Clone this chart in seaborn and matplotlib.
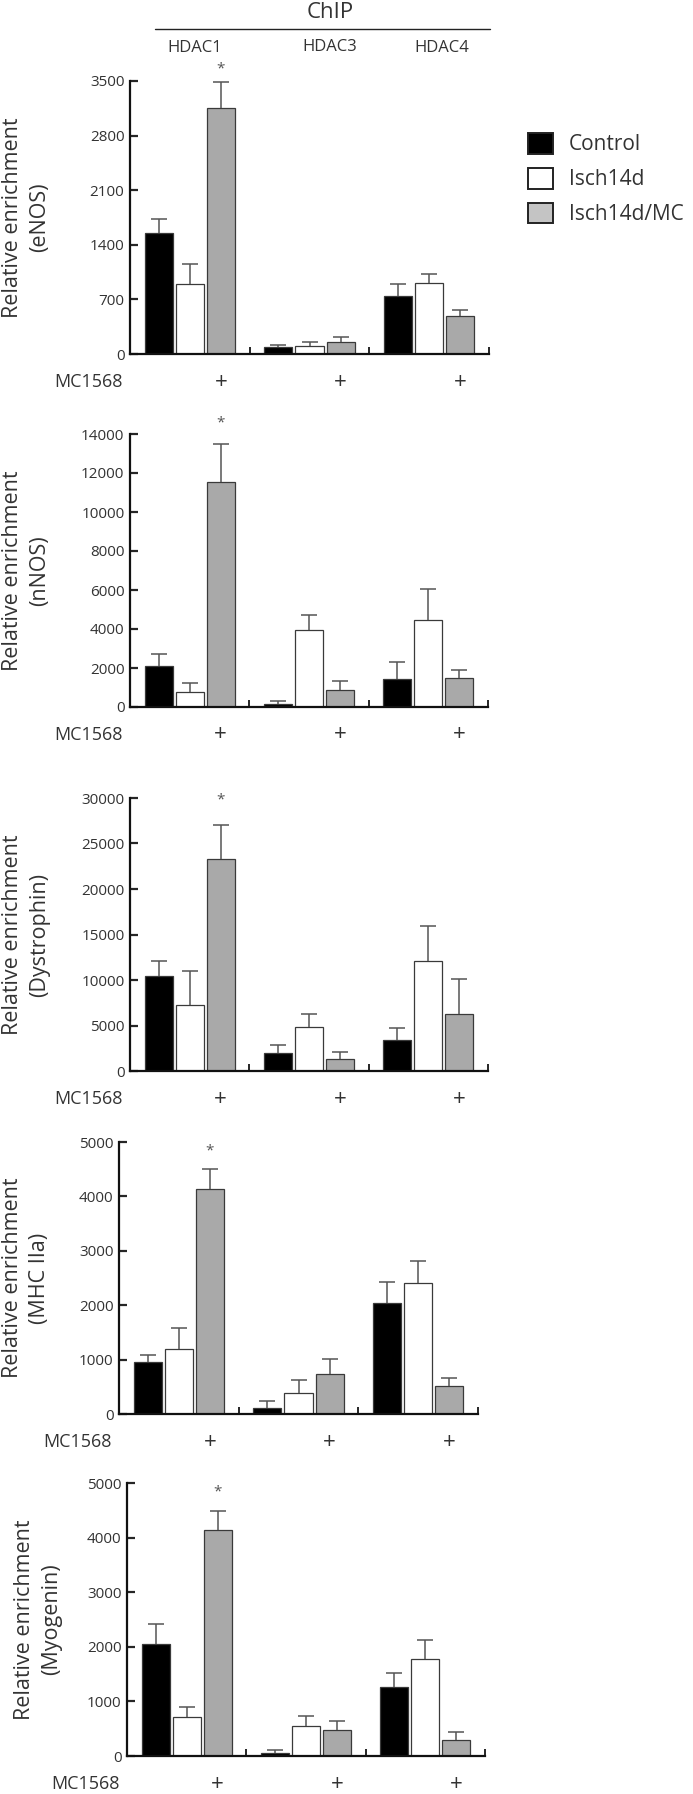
import pandas as pd
import matplotlib.pyplot as plt
import seaborn as sns
from matplotlib.lines import Line2D
from matplotlib.patches import Patch

# Grupos y dianas de ChIP
targets = ['HDAC1', 'HDAC3', 'HDAC4']
groups = ['Control', 'Isch14d', 'Isch14d/MC']

# Valores (una lista por grupo: HDAC1, HDAC3, HDAC4)
enos_mean = [[1547, 85, 744], [897, 103, 915], [3154, 154, 487]]
enos_err = [[184, 30, 149], [253, 47, 115], [329, 64, 73]]

nnos_mean = [[2085, 154, 1436], [786, 3949, 4444], [11556, 889, 1470]]
nnos_err = [[633, 154, 889], [445, 769, 1607], [1931, 444, 445]]

dys_mean = [[10403, 2015, 3370], [7253, 4799, 12125], [23333, 1355, 6300]]
dys_err = [[1648, 879, 1355], [3773, 1428, 3809], [3700, 696, 3773]]

mhc_mean = [[954, 104, 2048], [1192, 379, 2402], [4132, 740, 513]]
mhc_err = [[134, 140, 373], [397, 244, 416], [379, 269, 147]]

myo_mean = [[2049, 49, 1256], [713, 543, 1774], [4140, 482, 293]]
myo_err = [[360, 55, 268], [189, 189, 342], [342, 152, 140]]

genes = ['eNOS', 'nNOS', 'Dystrophin', 'MHC IIa', 'Myogenin']
means = [enos_mean, nnos_mean, dys_mean, mhc_mean, myo_mean]
errs = [enos_err, nnos_err, dys_err, mhc_err, myo_err]
ytick_max = [3500, 14000, 30000, 5000, 5000]
ytick_step = [700, 2000, 5000, 1000, 1000]
star_y = [3654, 14560, 29780, 4835, 4835]

# Estilo
sns.set_theme(style='white')
plt.rcParams['font.family'] = ['Open Sans', 'DejaVu Sans']
TXT = '#333333'
palette = {'Control': '#000000', 'Isch14d': '#ffffff', 'Isch14d/MC': '#a9a9a9'}

W, H = 693, 1794
fig = plt.figure(figsize=(W / 100, H / 100), dpi=100)

# Posición de cada panel en píxeles: izquierda, arriba, derecha, abajo
boxes = [(130, 81, 489, 354), (130, 434, 488, 707), (130, 798, 488, 1071),
         (119, 1142, 478, 1414), (127, 1483, 485, 1756)]
label_right = [50, 50, 50, 50, 62]

for i, gene in enumerate(genes):
    l, t, r, b = boxes[i]
    wpx, hpx = r - l, b - t
    ax = fig.add_axes([l / W, 1 - b / H, wpx / W, hpx / H])

    df = pd.DataFrame({
        'target': targets * 3,
        'group': [g for g in groups for _ in targets],
        'value': [v for row in means[i] for v in row],
    })
    sns.barplot(data=df, x='target', y='value', hue='group', hue_order=groups,
                order=targets, palette=palette, width=0.78, gap=0.1,
                edgecolor='#3a3a3a', linewidth=0.9, errorbar=None,
                legend=False, ax=ax)
    bar_conts = list(ax.containers)

    # Barras de error (solo hacia arriba)
    for k, cont in enumerate(bar_conts):
        xs = [p.get_x() + p.get_width() / 2 for p in cont]
        ys = [p.get_height() for p in cont]
        eb = ax.errorbar(xs, ys, yerr=[[0] * 3, errs[i][k]], fmt='none',
                         ecolor='#555555', elinewidth=1.1, capsize=5.5,
                         capthick=1.1, zorder=1)
        eb[1][0].set_visible(False)

    mc_bars = list(bar_conts[2])
    x_star = mc_bars[0].get_x() + mc_bars[0].get_width() / 2
    ax.text(x_star, star_y[i], '*', ha='center', va='center',
            fontsize=11, color='#555555')

    ax.set_xlim(-0.5, 2.5)
    ax.set_ylim(0, ytick_max[i])
    ax.set_yticks(range(0, ytick_max[i] + 1, ytick_step[i]))
    ax.set_xticks([0.5, 1.5, 2.5])
    ax.set_xticklabels([])
    ax.set_xlabel('')
    for s in ['top', 'right']:
        ax.spines[s].set_visible(False)
    for s in ['left', 'bottom']:
        ax.spines[s].set_linewidth(1.6)
        ax.spines[s].set_color('#111111')
    ax.tick_params(axis='y', direction='in', length=6, width=1.6,
                   labelsize=11, labelcolor=TXT, pad=4, left=True)
    ax.tick_params(axis='x', direction='in', length=5, width=1.4, bottom=True)

    ax.set_ylabel('Relative enrichment\n(' + gene + ')', fontsize=15.5,
                  color=TXT, linespacing=1.35)
    ax.yaxis.set_label_coords((label_right[i] - l) / wpx, 0.5)

    # Fila MC1568
    ax.text(-76 / wpx, -28 / hpx, 'MC1568', transform=ax.transAxes,
            ha='left', va='center', fontsize=13, color=TXT)
    for p in mc_bars:
        ax.text(p.get_x() + p.get_width() / 2, -28 / hpx, '+',
                transform=ax.get_xaxis_transform(), ha='center', va='center',
                fontsize=16, color=TXT)

# Encabezado ChIP
fig.text(330 / W, 1 - 13 / H, 'ChIP', ha='center', va='center',
         fontsize=16, color=TXT)
fig.add_artist(Line2D([155 / W, 490 / W], [1 - 29 / H, 1 - 29 / H],
                      color='#222222', linewidth=1.0))
for name, xp, yp in zip(targets, [195, 330, 442], [48, 47, 48]):
    fig.text(xp / W, 1 - yp / H, name, ha='center', va='center',
             fontsize=12, color=TXT)

# Leyenda
handles = [Patch(facecolor=c, edgecolor='#222222', linewidth=1.4)
           for c in ['#000000', '#ffffff', '#c4c4c4']]
fig.legend(handles, groups, loc='upper left',
           bbox_to_anchor=(528 / W, 1 - 133 / H), frameon=False,
           fontsize=15, handlelength=1.2, handleheight=1.15,
           handletextpad=0.75, labelspacing=0.6, borderpad=0,
           borderaxespad=0, labelcolor=TXT)

fig.savefig('out.png', dpi=100)
